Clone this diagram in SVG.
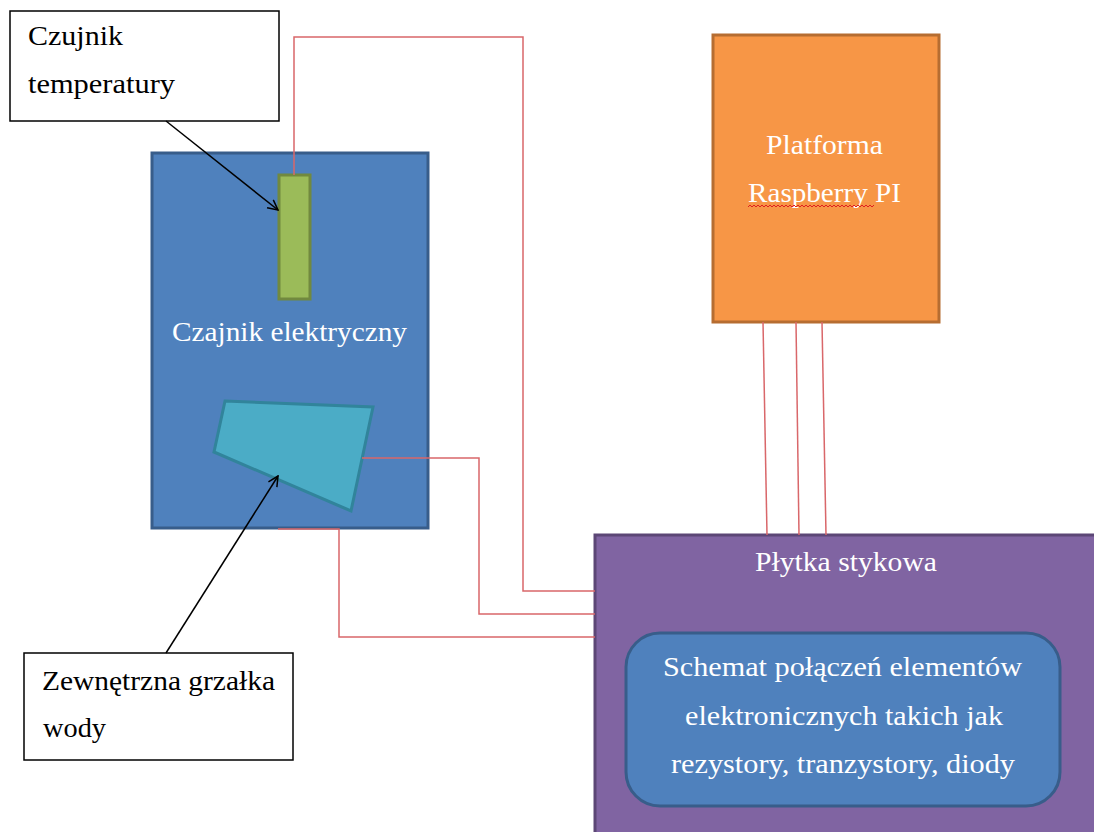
<svg xmlns="http://www.w3.org/2000/svg" width="1094" height="832" viewBox="0 0 1094 832">
<defs>
<style>
.lbl{font-family:"Liberation Serif","Times New Roman",serif;font-size:27px;fill:#000}
.wt{font-family:"Liberation Serif","Times New Roman",serif;font-size:27px;fill:#fff}
.wire{fill:none;stroke:#D9676A;stroke-width:1.5}
.ptr{fill:none;stroke:#000;stroke-width:1.5}
</style>
<marker id="open" viewBox="0 0 12 12" refX="11" refY="6" markerWidth="12" markerHeight="12" markerUnits="userSpaceOnUse" orient="auto">
<path d="M1,1 L11,6 L1,11" fill="none" stroke="#000" stroke-width="1.5"/>
</marker>
</defs>
<rect width="1094" height="832" fill="#fff"/>

<g id="kettle">
<rect x="152" y="153" width="276" height="375" fill="#4F81BD" stroke="#385D8A" stroke-width="3"/>
<text class="wt" x="172" y="341" textLength="235" lengthAdjust="spacingAndGlyphs">Czajnik elektryczny</text>
</g>
<g id="sensor">
<rect x="279" y="175" width="31" height="124" fill="#9BBB59" stroke="#71893F" stroke-width="3"/>
</g>
<g id="heater">
<polygon points="225,401 373,407 351,511 214,452" fill="#4BACC6" stroke="#31849B" stroke-width="3"/>
</g>

<g id="raspberry">
<rect x="713" y="35" width="226" height="287" fill="#F79646" stroke="#B66D31" stroke-width="3"/>
<text class="wt" x="766" y="154" textLength="117" lengthAdjust="spacingAndGlyphs">Platforma</text>
<text class="wt" x="748" y="202" textLength="153" lengthAdjust="spacingAndGlyphs">Raspberry PI</text>
<path d="M748,207 l2,-2 l2,2 l2,-2 l2,2 l2,-2 l2,2 l2,-2 l2,2 l2,-2 l2,2 l2,-2 l2,2 l2,-2 l2,2 l2,-2 l2,2 l2,-2 l2,2 l2,-2 l2,2 l2,-2 l2,2 l2,-2 l2,2 l2,-2 l2,2 l2,-2 l2,2 l2,-2 l2,2 l2,-2 l2,2 l2,-2 l2,2 l2,-2 l2,2 l2,-2 l2,2 l2,-2 l2,2 l2,-2 l2,2 l2,-2 l2,2 l2,-2 l2,2 l2,-2 l2,2 l2,-2 l2,2 l2,-2 l2,2 l2,-2 l2,2 l2,-2 l2,2 l2,-2 l2,2 l2,-2 l2,2 l2,-2 l2,2 l2,-2" fill="none" stroke="#E02020" stroke-width="1"/>
</g>

<g id="breadboard">
<rect x="595" y="535" width="510" height="310" fill="#8064A2" stroke="#5C4776" stroke-width="3"/>
<text class="wt" x="755" y="571" textLength="182" lengthAdjust="spacingAndGlyphs">Płytka stykowa</text>
</g>
<g id="schematic">
<rect x="626" y="633" width="434" height="173" rx="34" ry="34" fill="#4F81BD" stroke="#385D8A" stroke-width="3"/>
<text class="wt" x="663" y="676" textLength="359" lengthAdjust="spacingAndGlyphs">Schemat połączeń elementów</text>
<text class="wt" x="685" y="725" textLength="318" lengthAdjust="spacingAndGlyphs">elektronicznych takich jak</text>
<text class="wt" x="671" y="773" textLength="344" lengthAdjust="spacingAndGlyphs">rezystory, tranzystory, diody</text>
</g>

<g id="label-sensor">
<rect x="10" y="11" width="269" height="110" fill="#fff" stroke="#000" stroke-width="1.5"/>
<text class="lbl" x="28" y="45" textLength="95" lengthAdjust="spacingAndGlyphs">Czujnik</text>
<text class="lbl" x="28" y="93" textLength="147" lengthAdjust="spacingAndGlyphs">temperatury</text>
</g>
<g id="label-heater">
<rect x="24" y="653" width="269" height="107" fill="#fff" stroke="#000" stroke-width="1.5"/>
<text class="lbl" x="42" y="690" textLength="233" lengthAdjust="spacingAndGlyphs">Zewnętrzna grzałka</text>
<text class="lbl" x="43" y="737" textLength="63" lengthAdjust="spacingAndGlyphs">wody</text>
</g>

<g id="connectors">
<path class="wire" d="M294,175 L294,37 L523,37 L523,591 L595,591"/>
<path class="wire" d="M362,458 L479,458 L479,614 L595,614"/>
<path class="wire" d="M278,529 L339,529 L339,637 L595,637"/>
<path class="wire" d="M763,322 L767,535"/>
<path class="wire" d="M796,322 L799,535"/>
<path class="wire" d="M822,322 L826,535"/>
<path class="ptr" d="M166,121 L278,210" marker-end="url(#open)"/>
<path class="ptr" d="M166,653 L278,476" marker-end="url(#open)"/>
</g>
</svg>
